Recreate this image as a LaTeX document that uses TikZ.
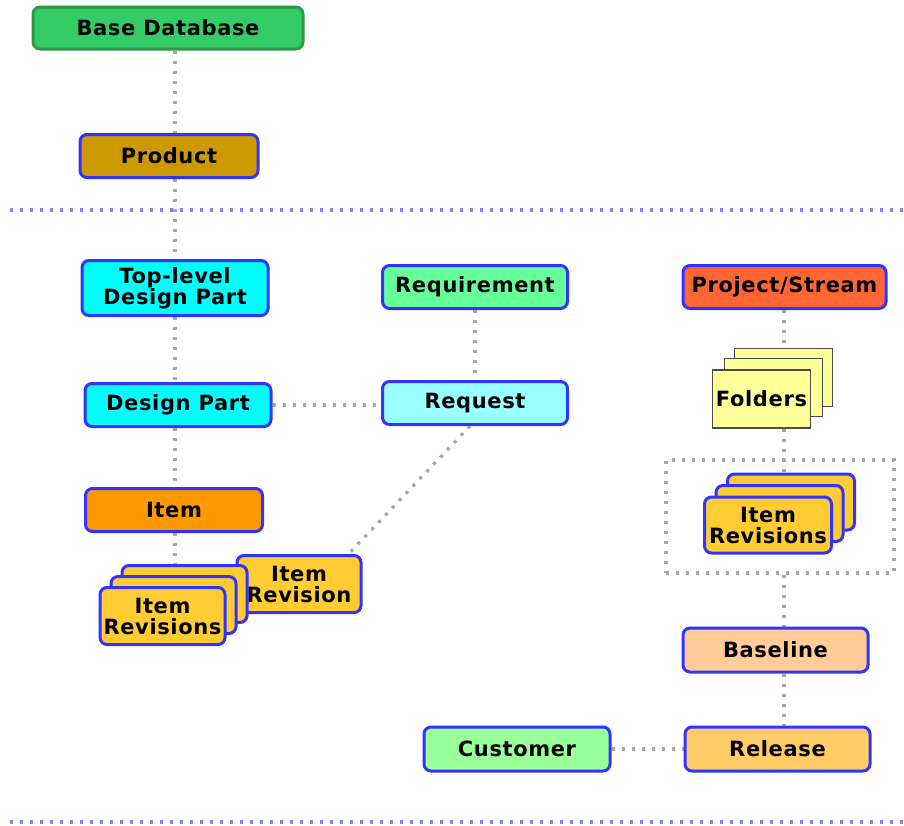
\documentclass[tikz,border=0pt]{standalone}
\usepackage{fontspec}
\setmainfont{DejaVu Sans}[LetterSpace=3.0]
\usetikzlibrary{calc}
\pgfdeclarelayer{bg}
\pgfsetlayers{bg,main}
\definecolor{bblue}{HTML}{3333FF}
\definecolor{dotgray}{HTML}{A6A6A6}
\definecolor{dotblue}{HTML}{8080F8}
\definecolor{cgreen}{HTML}{33CC66}
\definecolor{cgreenb}{HTML}{2A9A4A}
\definecolor{cprod}{HTML}{CC9900}
\definecolor{ccyan}{HTML}{00FFFF}
\definecolor{creq}{HTML}{66FF99}
\definecolor{crequest}{HTML}{99FFFF}
\definecolor{citem}{HTML}{FF9900}
\definecolor{crev}{HTML}{FFCC33}
\definecolor{cproj}{HTML}{FF6633}
\definecolor{cfold}{HTML}{FFFF99}
\definecolor{cbase}{HTML}{FFCC99}
\definecolor{crel}{HTML}{FFCC66}
\definecolor{ccust}{HTML}{99FF99}
\tikzset{
  box/.style={draw=bblue, line width=3pt, rounded corners=7pt, align=center,
    inner sep=0pt, font=\fontsize{21}{21}\selectfont\bfseries},
  folder/.style={draw=black!70, line width=1.5pt, inner sep=0pt,
    minimum width=98pt, minimum height=58pt, fill=cfold, align=center,
    font=\fontsize{21}{21}\selectfont\bfseries},
  conn/.style={draw=dotgray, line width=3.2pt, dash pattern=on 3.2pt off 6.8pt},
  sep/.style={draw=dotblue, line width=3.2pt, dash pattern=on 3.2pt off 6.8pt},
}
\begin{document}
\begin{tikzpicture}[x=1pt,y=-1pt]
\useasboundingbox (0,0) rectangle (904,825);
% separators
\coordinate (s1l) at (10,210); \coordinate (s1r) at (904,210);
\coordinate (s2l) at (10,822); \coordinate (s2r) at (904,822);
\draw[sep] (s1l) -- (s1r);
\draw[sep] (s2l) -- (s2r);
\coordinate (spine) at (175,0);
\coordinate (rspine) at (784,0);
% nodes
\node[box, draw=cgreenb, fill=cgreen, minimum width=270pt, minimum height=42pt] (base) at (168,28) {Base Database};
\node[box, fill=cprod, minimum width=178pt, minimum height=43pt] (product) at (169,156) {Product};
\node[box, fill=ccyan, minimum width=186pt, minimum height=55pt] (top) at (175,288) {Top-level\\Design Part};
\node[box, fill=ccyan, minimum width=186pt, minimum height=43pt] (dpart) at (178,405) {Design Part};
\node[box, fill=creq, minimum width=185pt, minimum height=43pt] (req) at (475,287) {Requirement};
\node[box, fill=crequest, minimum width=185pt, minimum height=43pt] (request) at (475,403) {Request};
\node[box, fill=citem, minimum width=177pt, minimum height=43pt] (item) at (174,510) {Item};
\node[box, fill=crev, minimum width=124pt, minimum height=57pt] (irev) at (299,584) {Item\\Revision};
\node[box, fill=crev, minimum width=125pt, minimum height=57pt] (lrev3) at (184.5,594) {};
\node[box, fill=crev, minimum width=125pt, minimum height=57pt] (lrev2) at (173.5,605) {};
\node[box, fill=crev, minimum width=125pt, minimum height=57pt] (lrev1) at (162.5,616) {Item\\Revisions};
\node[box, fill=cproj, minimum width=203pt, minimum height=43pt] (proj) at (784.5,287) {Project/Stream};
\node[folder] (fold3) at (783.5,377.5) {};
\node[folder] (fold2) at (773.5,387.5) {};
\node[folder] (fold1) at (761.5,399) {Folders};
\node[conn, minimum width=228pt, minimum height=113pt, inner sep=0pt] (grp) at (780,516.5) {};
\node[box, fill=crev, minimum width=127pt, minimum height=56pt] (rrev3) at (791,502) {};
\node[box, fill=crev, minimum width=127pt, minimum height=56pt] (rrev2) at (779.5,513.5) {};
\node[box, fill=crev, minimum width=127pt, minimum height=56pt] (rrev1) at (768,525) {Item\\Revisions};
\node[box, fill=cbase, minimum width=185pt, minimum height=44pt] (baseline) at (775.5,650) {Baseline};
\node[box, fill=crel, minimum width=185pt, minimum height=44pt] (release) at (777.5,749) {Release};
\node[box, fill=ccust, minimum width=186pt, minimum height=44pt] (cust) at (517,749) {Customer};
% connectors
\begin{pgfonlayer}{bg}
\draw[conn] (base.south -| spine) -- (product.north -| spine);
\draw[conn] (product.south -| spine) -- (top.north -| spine);
\draw[conn] (top.south -| spine) -- (dpart.north -| spine);
\draw[conn] (dpart.south -| spine) -- (item.north -| spine);
\draw[conn] (item.south -| spine) -- (lrev3.north -| spine);
\draw[conn] (dpart.east) -- (dpart.east -| request.west);
\draw[conn] (req.south) -- (request.north);
\draw[conn] ($(request.south)+(-5,0)$) -- ($(irev.north east)+(-14,0)$);
\draw[conn] (proj.south -| rspine) -- (fold3.north -| rspine);
\draw[conn] (fold1.south -| rspine) -- (rrev3.north -| rspine);
\draw[conn] (grp.south -| rspine) -- (baseline.north -| rspine);
\draw[conn] (baseline.south -| rspine) -- (release.north -| rspine);
\draw[conn] (cust.east) -- (release.west);
\end{pgfonlayer}
\end{tikzpicture}
\end{document}
